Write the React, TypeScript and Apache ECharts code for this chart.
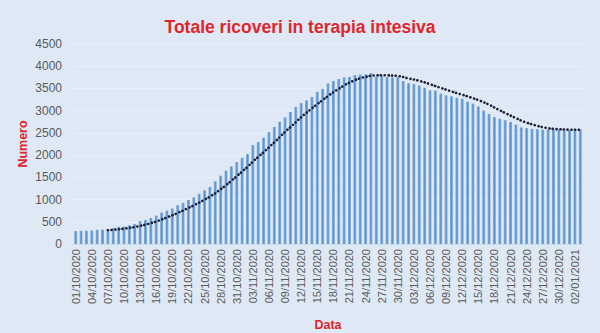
import React, { useEffect, useRef } from "react";
import * as echarts from "echarts";

const dates: string[] = [
  "01/10/2020","02/10/2020","03/10/2020","04/10/2020","05/10/2020","06/10/2020","07/10/2020","08/10/2020","09/10/2020","10/10/2020",
  "11/10/2020","12/10/2020","13/10/2020","14/10/2020","15/10/2020","16/10/2020","17/10/2020","18/10/2020","19/10/2020","20/10/2020",
  "21/10/2020","22/10/2020","23/10/2020","24/10/2020","25/10/2020","26/10/2020","27/10/2020","28/10/2020","29/10/2020","30/10/2020",
  "31/10/2020","01/11/2020","02/11/2020","03/11/2020","04/11/2020","05/11/2020","06/11/2020","07/11/2020","08/11/2020","09/11/2020",
  "10/11/2020","11/11/2020","12/11/2020","13/11/2020","14/11/2020","15/11/2020","16/11/2020","17/11/2020","18/11/2020","19/11/2020",
  "20/11/2020","21/11/2020","22/11/2020","23/11/2020","24/11/2020","25/11/2020","26/11/2020","27/11/2020","28/11/2020","29/11/2020",
  "30/11/2020","01/12/2020","02/12/2020","03/12/2020","04/12/2020","05/12/2020","06/12/2020","07/12/2020","08/12/2020","09/12/2020",
  "10/12/2020","11/12/2020","12/12/2020","13/12/2020","14/12/2020","15/12/2020","16/12/2020","17/12/2020","18/12/2020","19/12/2020",
  "20/12/2020","21/12/2020","22/12/2020","23/12/2020","24/12/2020","25/12/2020","26/12/2020","27/12/2020","28/12/2020","29/12/2020",
  "30/12/2020","31/12/2020","01/01/2021","02/01/2021","03/01/2021"
];

const ricoveri: number[] = [
  291, 295, 297, 303, 319, 323, 337, 358, 387, 390,
  420, 452, 514, 539, 586, 638, 705, 750, 797, 870,
  926, 992, 1049, 1128, 1208, 1284, 1411, 1536, 1651, 1746,
  1843, 1939, 2022, 2225, 2292, 2391, 2515, 2634, 2749, 2849,
  2971, 3081, 3170, 3230, 3306, 3422, 3492, 3612, 3670, 3712,
  3748, 3758, 3801, 3810, 3816, 3848, 3762, 3782, 3753, 3744,
  3753, 3663, 3616, 3597, 3567, 3517, 3458, 3452, 3382, 3345,
  3320, 3291, 3265, 3199, 3158, 3095, 3003, 2926, 2855, 2819,
  2784, 2743, 2687, 2624, 2606, 2589, 2582, 2572, 2580, 2567,
  2582, 2555, 2569, 2566, 2579
];

// dotted trend line (7-day moving average)
const mediaMobile: (number | null)[] = [
  null, null, null, null, null, null, 309, 319, 332, 345,
  362, 381, 408, 437, 470, 506, 551, 598, 647, 698,
  753, 811, 870, 930, 996, 1065, 1143, 1230, 1324, 1423,
  1526, 1630, 1735, 1852, 1960, 2065, 2175, 2288, 2404, 2522,
  2629, 2741, 2853, 2955, 3051, 3147, 3239, 3330, 3415, 3492,
  3566, 3631, 3685, 3730, 3759, 3785, 3792, 3797, 3796, 3788,
  3780, 3758, 3725, 3701, 3670, 3637, 3596, 3553, 3513, 3474,
  3434, 3395, 3359, 3322, 3280, 3239, 3190, 3134, 3072, 3008,
  2949, 2889, 2831, 2777, 2731, 2693, 2659, 2629, 2606, 2589,
  2583, 2575, 2572, 2570, 2571
];

const yTicks = { min: 0, max: 4500, interval: 500 };
const xName = "Data";
const yName = "Numero";

const FONT = "Liberation Sans, Arial, sans-serif";
const RED = "#e0262c";

export default function App() {
  const ref = useRef<HTMLDivElement>(null);
  useEffect(() => {
    if (!ref.current) return;
    const chart = echarts.init(ref.current, null, { renderer: "svg" });
    chart.setOption({
      animation: false,
      backgroundColor: "#dee9f5",
      title: {
        text: "Totale ricoveri in terapia intesiva",
        left: "center",
        top: 13,
        textStyle: { color: RED, fontSize: 17.5, fontWeight: "bold", fontFamily: FONT },
      },
      grid: {
        left: 73,
        right: 17,
        top: 44,
        bottom: 89,
        containLabel: false,
        outerBoundsMode: "none",
      },
      graphic: [
        {
          type: "text",
          x: 328,
          y: 325,
          style: {
            text: xName,
            fill: RED,
            font: `bold 12.5px ${FONT}`,
            align: "center",
            verticalAlign: "middle",
          },
        },
        {
          type: "text",
          x: 23,
          y: 144,
          rotation: Math.PI / 2,
          style: {
            text: yName,
            fill: RED,
            font: `bold 12.5px ${FONT}`,
            align: "center",
            verticalAlign: "middle",
          },
        },
      ],
      xAxis: {
        type: "category",
        data: dates,
        axisLine: { show: true, lineStyle: { color: "#d0dae6", width: 1 } },
        axisTick: { show: false },
        axisLabel: {
          interval: 2,
          rotate: 90,
          margin: 5,
          color: "#595959",
          fontSize: 11,
          fontFamily: FONT,
        },
      },
      yAxis: {
        type: "value",
        min: yTicks.min,
        max: yTicks.max,
        interval: yTicks.interval,
        axisLine: { show: false },
        axisTick: { show: false },
        axisLabel: {
          margin: 11,
          color: "#595959",
          fontSize: 12,
          fontFamily: FONT,
          formatter: (v: number) => String(v),
        },
        splitLine: { lineStyle: { color: "#eaf0f8", width: 1 } },
      },
      series: [
        {
          type: "bar",
          data: ricoveri,
          barWidth: "55%",
          itemStyle: {
            color: new echarts.graphic.LinearGradient(0, 0, 1, 0, [
              { offset: 0, color: "#8db6e2" },
              { offset: 0.5, color: "#5b90cc" },
              { offset: 1, color: "#8db6e2" },
            ]),
          },
        },
        {
          type: "line",
          data: mediaMobile,
          showSymbol: false,
          symbol: "none",
          smooth: true,
          lineStyle: { color: "#1b1f33", width: 2.6, type: [0.1, 3.6], cap: "round" },
        },
      ],
    });
    return () => chart.dispose();
  }, []);
  return (
    <div
      ref={ref}
      style={{ position: "fixed", left: 0, top: 0, width: 600, height: 333 }}
    />
  );
}
